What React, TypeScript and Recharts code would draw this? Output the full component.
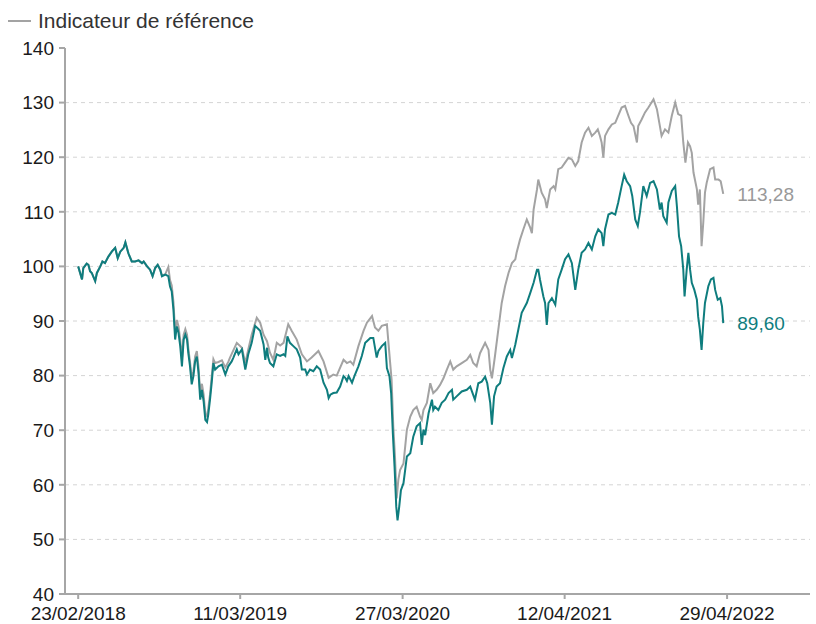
import React from 'react';
import { LineChart, Line, XAxis, YAxis, CartesianGrid, Legend } from 'recharts';

// Days elapsed since 23/02/2018
const START_UTC = Date.UTC(2018, 1, 23);

const fundDays = [
  0, 9, 12, 20, 24, 28, 32, 40, 44, 52, 57, 63, 71, 79, 87, 93, 99, 107, 111, 118, 126, 134, 142, 150, 154, 162, 169, 175, 181, 187, 193, 197, 205, 212, 216, 220, 224, 228, 232, 236, 240, 244, 248, 252, 256, 259, 263, 267, 271, 275, 279, 283, 287, 291, 295, 299, 303, 306, 310, 314, 318, 322, 330, 338, 346, 353, 361, 365, 373, 377, 385, 393, 400, 408, 416, 420, 428, 436, 440, 444, 447, 451, 459, 467, 475, 483, 487, 492, 498, 506, 514, 522, 526, 534, 538, 545, 553, 561, 569, 577, 585, 589, 593, 600, 608, 616, 624, 628, 632, 636, 644, 651, 659, 667, 675, 679, 687, 694, 702, 706, 714, 722, 726, 732, 736, 740, 744, 748, 751, 755, 759, 765, 773, 781, 788, 796, 804, 808, 812, 816, 824, 832, 835, 839, 847, 855, 863, 871, 879, 882, 890, 902, 914, 922, 926, 933, 941, 949, 957, 962, 969, 973, 978, 984, 992, 1000, 1008, 1016, 1020, 1028, 1035, 1043, 1051, 1055, 1063, 1071, 1079, 1082, 1086, 1094, 1098, 1102, 1106, 1114, 1122, 1129, 1137, 1145, 1153, 1161, 1169, 1176, 1184, 1192, 1200, 1208, 1216, 1223, 1231, 1235, 1239, 1247, 1255, 1263, 1270, 1278, 1284, 1290, 1298, 1303, 1310, 1316, 1321, 1329, 1337, 1345, 1353, 1361, 1368, 1372, 1376, 1384, 1388, 1396, 1404, 1408, 1413, 1418, 1423, 1426, 1431, 1435, 1439, 1443, 1449, 1455, 1458, 1462, 1466, 1470, 1474, 1482, 1488, 1494, 1498, 1504, 1510, 1514, 1517,
];
const fundValues = [
  100, 97.6, 99.7, 100.5, 100.3, 99.1, 98.8, 97.3, 98.8, 100, 100.9, 100.6, 101.8, 102.7, 103.4, 101.5, 102.7, 103.4, 104.4, 102.4, 100.9, 100.9, 101.1, 100.6, 100.9, 100, 99.4, 98.2, 99.7, 100.3, 99.4, 98.2, 98.5, 98.2, 96.3, 95.4, 92.1, 86.6, 89, 87.8, 85.4, 81.7, 86.6, 87.5, 86.6, 84.1, 81.7, 78.4, 79.9, 82.6, 83.5, 80.5, 75.6, 77.4, 75.3, 71.9, 71.5, 72.9, 75.6, 78.7, 82.3, 81.1, 81.7, 82, 80.2, 81.7, 82.6, 83.3, 84.8, 83.9, 84.8, 81.1, 83.9, 86, 89.1, 88.8, 88.2, 85.7, 82.9, 85.1, 83.3, 82.3, 81.7, 83.9, 83.6, 83.9, 83.6, 87.2, 86, 85.4, 84.8, 83.3, 81.1, 81.1, 80.2, 81.1, 80.8, 81.7, 81.1, 78.7, 77.4, 75.9, 76.5, 76.8, 76.9, 78, 79.9, 79.6, 79, 79.9, 78.7, 80.2, 81.7, 83.6, 86, 86.3, 86.9, 86.9, 83.3, 84.5, 85.4, 86, 81.4, 79.9, 76.8, 69.4, 63.3, 56, 53.5, 56, 59, 60.3, 65.2, 65.8, 68.8, 70.7, 71.3, 67.3, 70.1, 69.1, 73.1, 75.6, 73.7, 74.3, 73.7, 75, 75.6, 76.8, 77.4, 75.6, 76.2, 77.1, 77.4, 78, 77.1, 75.6, 78.6, 78.9, 79.8, 78.6, 75, 71, 76.2, 78, 78.6, 81.4, 83.5, 84.7, 83.2, 85.7, 88.4, 91.5, 92.7, 93.3, 95.1, 97, 99.4, 99.4, 97.6, 94.5, 93.3, 89.3, 93.3, 94.2, 93, 97.6, 99.4, 101.3, 102.2, 100.6, 95.7, 99.4, 102.5, 103.1, 104.3, 103.1, 105.5, 106.8, 106.1, 103.7, 106.8, 109.5, 109.8, 109.5, 111.7, 114.7, 116.8, 115.6, 114.7, 112.9, 108.6, 107.4, 109.8, 114.7, 112.9, 115.3, 115.6, 114.1, 110.4, 111.7, 109.2, 108, 111.7, 113.8, 114.7, 111, 105.5, 103.7, 99.4, 94.5, 99.4, 102.5, 99.4, 97, 95.7, 93.9, 90.8, 88.4, 84.7, 89.6, 93.3, 96.4, 97.6, 97.9, 95.7, 93.9, 94.2, 92.7, 89.6,
];

const benchDays = [
  0, 9, 12, 20, 24, 28, 32, 40, 44, 52, 57, 63, 71, 79, 87, 93, 99, 107, 111, 118, 126, 134, 142, 150, 154, 162, 169, 175, 181, 187, 193, 197, 205, 212, 216, 220, 224, 228, 232, 236, 240, 244, 248, 252, 256, 259, 263, 267, 271, 275, 279, 283, 287, 291, 295, 299, 303, 306, 310, 314, 318, 322, 330, 338, 346, 353, 357, 373, 385, 393, 400, 408, 420, 428, 436, 444, 451, 459, 467, 475, 483, 494, 502, 514, 526, 538, 549, 565, 577, 589, 600, 608, 624, 632, 640, 647, 659, 671, 679, 691, 698, 706, 714, 726, 734, 737, 741, 745, 749, 753, 757, 765, 773, 781, 788, 796, 804, 808, 812, 820, 828, 835, 843, 851, 859, 867, 875, 882, 890, 902, 914, 922, 929, 937, 945, 957, 965, 969, 973, 980, 988, 996, 1004, 1012, 1020, 1028, 1031, 1039, 1047, 1055, 1063, 1067, 1071, 1079, 1082, 1090, 1098, 1102, 1110, 1118, 1122, 1129, 1137, 1145, 1153, 1161, 1169, 1176, 1184, 1192, 1200, 1208, 1216, 1222, 1227, 1231, 1235, 1239, 1247, 1255, 1263, 1270, 1278, 1286, 1294, 1300, 1306, 1314, 1317, 1325, 1333, 1341, 1353, 1361, 1368, 1372, 1380, 1388, 1396, 1404, 1411, 1418, 1423, 1428, 1434, 1439, 1443, 1447, 1455, 1458, 1462, 1466, 1470, 1474, 1478, 1486, 1494, 1498, 1506, 1511, 1517,
];
const benchValues = [
  100, 97.6, 99.7, 100.5, 100.3, 99.1, 98.8, 97.3, 98.8, 100, 100.9, 100.6, 101.8, 102.7, 103.4, 101.5, 102.7, 103.4, 104.4, 102.4, 100.9, 100.9, 101.1, 100.6, 100.9, 100, 99.4, 98.2, 99.7, 100.3, 99.4, 98.3, 98.6, 99.9, 97.5, 96.5, 93.5, 88, 90.2, 89, 86.5, 83, 87.5, 88.5, 87.5, 85, 82.5, 79.5, 80.8, 83.5, 84.5, 81.5, 76.8, 78.5, 76.5, 73, 72.6, 74, 76.5, 79.8, 83, 82.3, 82.5, 82.8, 81.5, 82.5, 83.3, 86, 85.1, 82.3, 84.8, 87.5, 90.6, 89.7, 87.5, 86.3, 84.2, 82.9, 86, 85.5, 86, 89.4, 88.2, 86.6, 83.9, 82.6, 83.3, 84.5, 82.6, 79.6, 80.2, 80, 82.9, 82.3, 82.6, 82, 85.4, 88.2, 89.7, 90.9, 88.8, 88.2, 89.1, 89.4, 82, 79.3, 70.7, 65.2, 57.5, 61, 62.7, 63.9, 70.1, 72.5, 73.7, 74.3, 72.5, 71.9, 73.7, 75, 78.6, 76.8, 77.4, 78.3, 79.5, 81.1, 82.6, 81.1, 81.7, 82.3, 82.9, 83.8, 82.3, 81.7, 84.1, 86, 84.7, 81.1, 79.5, 83.5, 88.4, 93.3, 96.4, 98.8, 100.6, 101.3, 102.5, 104.9, 106.8, 108.6, 107.1, 106.1, 110.4, 114.1, 115.9, 113.5, 112.3, 110.7, 114.1, 114.7, 114.1, 117.8, 118.1, 119, 119.9, 119.6, 118.4, 119.3, 122.7, 124.5, 125.4, 123.9, 124.5, 125.1, 123.9, 122.7, 119.9, 123.9, 125.1, 126, 126.3, 127.6, 129.1, 129.4, 127.6, 126.3, 125.7, 122.7, 125.7, 126.9, 128.2, 129.1, 130.6, 128.8, 125.7, 123.9, 125.1, 124.5, 127.6, 130, 127.9, 127.6, 122.7, 119, 122.7, 122, 120.8, 117.2, 114.1, 111.3, 114.1, 103.7, 108, 113.5, 115.3, 117.8, 118.1, 115.9, 115.9, 115.6, 113.28,
];

const xTickDays = [0, 381, 763, 1144, 1526];
const yTicks = [40, 50, 60, 70, 80, 90, 100, 110, 120, 130, 140];
const gridValues = [50, 60, 70, 80, 90, 100, 110, 120, 130];
const benchName = 'Indicateur de référence';

const TEAL = '#0f7d7e';
const GREY = '#a3a3a3';
const FONT = '"Liberation Sans", Arial, sans-serif';

const fundData = fundDays.map((d, i) => ({ day: d, value: fundValues[i] }));
const benchData = benchDays.map((d, i) => ({ day: d, value: benchValues[i] }));

const pad = (n: number) => (n < 10 ? '0' + n : '' + n);
const formatDay = (d: number) => {
  const dt = new Date(START_UTC + d * 86400000);
  return `${pad(dt.getUTCDate())}/${pad(dt.getUTCMonth() + 1)}/${dt.getUTCFullYear()}`;
};

const makeEndLabel = (color: string, last: number) => (props: any) => {
  const { x, y, index, value } = props;
  if (index !== last) return null;
  return (
    <text x={x + 14} y={y} dy="0.35em" fill={color} fontSize={19} fontFamily={FONT} textAnchor="start">
      {Number(value).toFixed(2).replace('.', ',')}
    </text>
  );
};

const LegendContent = () => (
  <div style={{ position: 'relative', width: 290, height: 24, fontFamily: FONT, fontSize: 21, color: '#333' }}>
    <span
      style={{ position: 'absolute', left: 0, top: 11, width: 23, height: 2, background: GREY, display: 'block' }}
    />
    <span style={{ position: 'absolute', left: 30, top: 0, lineHeight: '24px', whiteSpace: 'nowrap' }}>{benchName}</span>
  </div>
);

export default function App() {
  return (
    <div style={{ position: 'absolute', left: 0, top: 0, width: 816, height: 624, background: '#fff' }}>
      <LineChart width={816} height={624} margin={{ top: 48, right: 6, bottom: 0, left: 15 }}>
        <CartesianGrid horizontal vertical={false} horizontalValues={gridValues} stroke="#d4d4d4" strokeDasharray="4 4" />
        <XAxis
          type="number"
          dataKey="day"
          domain={[-31, 1721]}
          ticks={xTickDays}
          interval={0}
          tickFormatter={formatDay}
          allowDataOverflow
          stroke="#a6a6a6"
          strokeWidth={2}
          tickSize={5}
          tickMargin={8}
          height={30}
          tick={{ fill: '#1a1a1a', fontSize: 19, fontFamily: FONT }}
        />
        <YAxis
          type="number"
          domain={[40, 140]}
          ticks={yTicks}
          interval={0}
          width={50}
          stroke="#a6a6a6"
          strokeWidth={2}
          tickSize={6}
          tickMargin={5}
          tick={{ fill: '#1a1a1a', fontSize: 19, fontFamily: FONT }}
        />
        <Legend
          layout="horizontal"
          verticalAlign="middle"
          align="center"
          wrapperStyle={{ top: 9, left: 8, width: 290 }}
          content={LegendContent}
        />
        <Line
          data={benchData}
          dataKey="value"
          name={benchName}
          type="linear"
          stroke={GREY}
          strokeWidth={2}
          dot={false}
          isAnimationActive={false}
          label={makeEndLabel('#999999', benchData.length - 1)}
        />
        <Line
          data={fundData}
          dataKey="value"
          name="Fonds"
          type="linear"
          stroke={TEAL}
          strokeWidth={2}
          dot={false}
          isAnimationActive={false}
          label={makeEndLabel(TEAL, fundData.length - 1)}
          legendType="none"
        />
      </LineChart>
    </div>
  );
}
